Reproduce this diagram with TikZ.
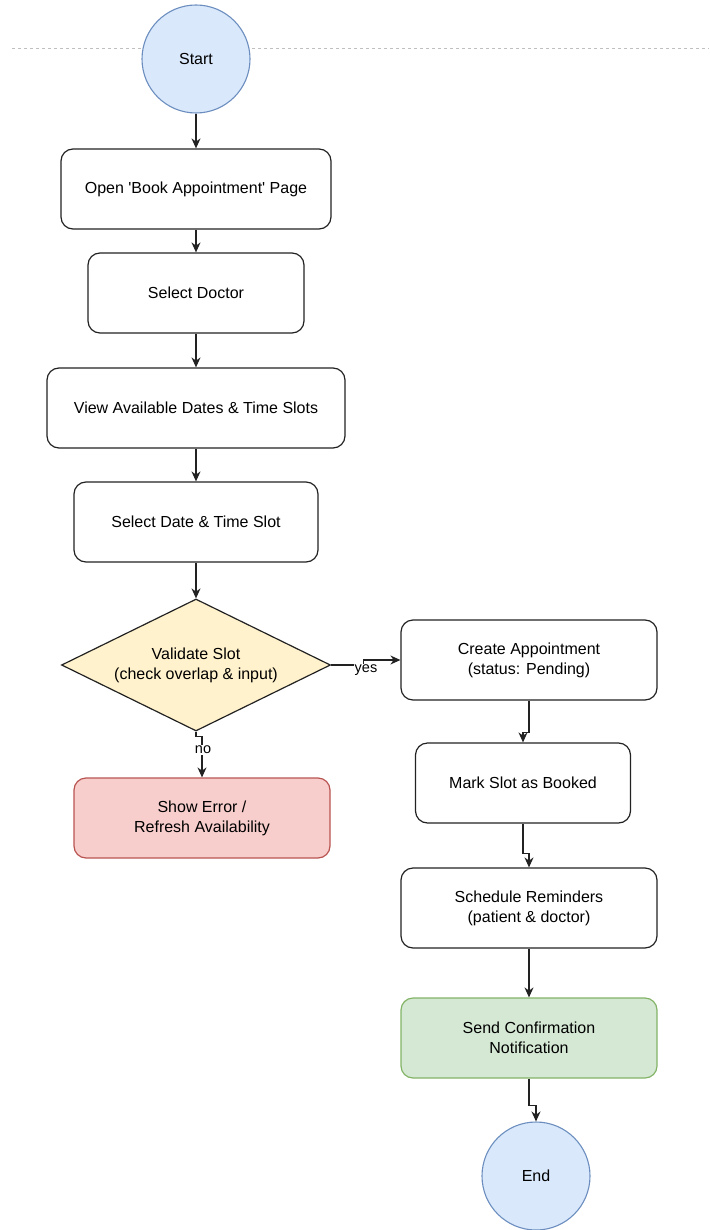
\documentclass[tikz,border=0pt]{standalone}
\usepackage{fontspec}
\setmainfont{Liberation Sans}
\usetikzlibrary{shapes.geometric,arrows.meta}
\definecolor{bluefill}{HTML}{DAE8FC}
\definecolor{bluedraw}{HTML}{6C8EBF}
\definecolor{yelfill}{HTML}{FFF2CC}
\definecolor{yeldraw}{HTML}{D6B656}
\definecolor{redfill}{HTML}{F8CECC}
\definecolor{reddraw}{HTML}{B85450}
\definecolor{grnfill}{HTML}{D5E8D4}
\definecolor{grndraw}{HTML}{82B366}
\definecolor{edgecol}{HTML}{222222}
\tikzset{
  txt/.style={font=\fontsize{16pt}{20pt}\selectfont, align=center, text=black},
  stepbox/.style={txt, draw=edgecol, line width=1.2pt, fill=white, rounded corners=12pt,
    minimum height=80pt, inner sep=0pt},
  terminal/.style={txt, circle, draw=bluedraw, fill=bluefill, line width=1.1pt,
    minimum size=108pt, inner sep=0pt},
  decision/.style={txt, diamond, draw=edgecol, fill=yelfill, line width=1.2pt,
    aspect=2.04, minimum width=269pt, minimum height=132pt, inner sep=0pt},
  arr/.style={draw=edgecol, line width=1.2pt, -{Stealth[length=10pt,width=9pt]}},
  lbl/.style={font=\fontsize{14.5pt}{17pt}\selectfont, fill=white, inner sep=1pt, text=black},
}
\begin{document}
\begin{tikzpicture}[x=1pt,y=-1pt]
\useasboundingbox (0,0) rectangle (709,1230);

% swimlane divider
\draw[color=black!25, line width=0.9pt, dash pattern=on 3pt off 3pt] (12,48) -- (709,48);

% main column
\node[terminal] (start) at (196,59) {Start};
\node[stepbox, minimum width=270pt] (open) at (196,189) {Open \textquotesingle Book Appointment\textquotesingle\ Page};
\node[stepbox, minimum width=216pt] (doc) at (196,293) {Select Doctor};
\node[stepbox, minimum width=298pt] (view) at (196,408) {View Available Dates \& Time Slots};
\node[stepbox, minimum width=244pt] (pick) at (196,522) {Select Date \& Time Slot};
\node[decision] (val) at (196,665) {Validate Slot\\(check overlap \& input)};
\node[stepbox, minimum width=256pt, fill=redfill, draw=reddraw] (err) at (202,818) {Show Error /\\Refresh Availability};

% booking column
\node[stepbox, minimum width=256pt] (create) at (529,660) {Create Appointment\\(status: Pending)};
\node[stepbox, minimum width=215pt] (mark) at (523,783) {Mark Slot as Booked};
\node[stepbox, minimum width=256pt] (remind) at (529,908) {Schedule Reminders\\(patient \& doctor)};
\node[stepbox, minimum width=256pt, fill=grnfill, draw=grndraw] (notify) at (529,1038) {Send Confirmation\\Notification};
\node[terminal] (end) at (536,1176) {End};

% connectors
\draw[arr] (start) -- (open);
\draw[arr] (open) -- (doc);
\draw[arr] (doc) -- (view);
\draw[arr] (view) -- (pick);
\draw[arr] (pick) -- (val);
\draw[arr] (val.east) -- ++(32,0) |- (create.west);
\draw[arr] (val.south) -- ++(0,5) -| (err.north);
\draw[arr] (create.south) -- ++(0,32) -| (mark.north);
\draw[arr] (mark.south) -- ++(0,30) -| (remind.north);
\draw[arr] (remind) -- (notify);
\draw[arr] (notify.south) -- ++(0,27) -| (end.north);

% edge labels
\node[lbl] (yeslbl) at (366,670) {yes};
\node[lbl] (nolbl) at (203,750) {no};
\end{tikzpicture}
\end{document}
